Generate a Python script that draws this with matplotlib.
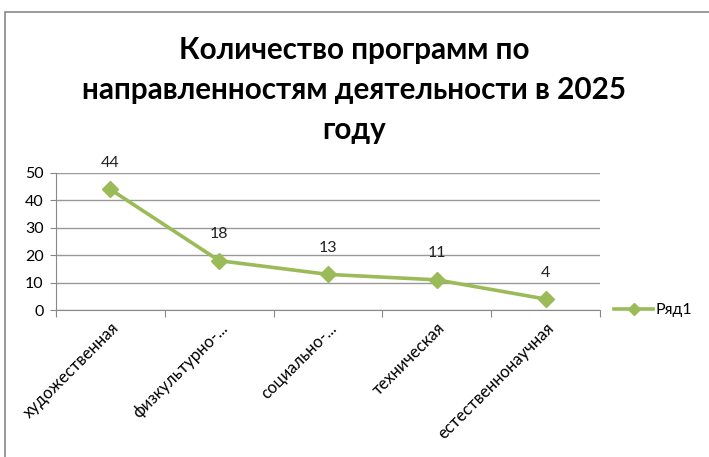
import matplotlib
matplotlib.use("Agg")
import matplotlib.pyplot as plt
from matplotlib.patches import Rectangle
from matplotlib.lines import Line2D
import numpy as np

categories = ["художественная", "физкультурно-...", "социально-...", "техническая", "естественнонаучная"]
values = [44, 18, 13, 11, 4]
series_name = "Ряд1"
title = "Количество программ по\nнаправленностям деятельности в 2025\nгоду"
yticks = [0, 10, 20, 30, 40, 50]

plt.rcParams['font.family'] = ['Lato', 'DejaVu Sans']

fig = plt.figure(figsize=(7.09, 4.57), dpi=100)
fig.patch.set_facecolor('white')
fig.patches.append(Rectangle((5/709, -0.1), 1.1, 1 - 12/457 + 0.1, transform=fig.transFigure,
                             fill=False, edgecolor='#888888', linewidth=1.2))

ax = fig.add_axes([56/709, 1 - 310/457, (600 - 56)/709, (310 - 173)/457])
color = '#9BBB59'
x = np.arange(len(categories))
ax.plot(x, values, color=color, linewidth=2.6, marker='D', markersize=8, label=series_name)
for xi, v in zip(x, values):
    ax.annotate(str(v), (xi, v), xytext=(0, 14), textcoords='offset points',
                ha='center', va='bottom', fontsize=11.5, color='#222222')

ax.set_xlim(-0.5, len(categories) - 0.5)
ax.set_ylim(0, 50)
ax.set_yticks(yticks)
ax.yaxis.grid(True, color='#999999', linewidth=1)
ax.set_axisbelow(True)
ax.set_xticks(np.arange(len(categories) + 1) - 0.5)
ax.set_xticklabels([])
ax.set_xticks(x, minor=True)
ax.set_xticklabels(categories, minor=True, rotation=45, ha='right', va='top',
                   rotation_mode='anchor', fontsize=12)
ax.tick_params(axis='x', which='minor', length=0, pad=7)
ax.tick_params(axis='x', which='major', length=5, color='#888888')
ax.tick_params(axis='y', length=4, color='#888888', labelsize=11.5, pad=5)
for s in ['top', 'right']:
    ax.spines[s].set_visible(False)
ax.spines['left'].set_color('#888888')
ax.spines['bottom'].set_color('#888888')

fig.text(0.5, 1 - 90/457, title, ha='center', va='center', fontsize=21.3, fontweight='bold',
         linespacing=1.5)

handle = Line2D([], [], color=color, linewidth=2.6, marker='D', markersize=6)
leg = ax.legend([handle], [series_name], loc='center left', bbox_to_anchor=(1.0, 0.0),
                frameon=False, fontsize=11.5, handlelength=2.4, handletextpad=0.15)

fig.savefig('out.png', dpi=100)
